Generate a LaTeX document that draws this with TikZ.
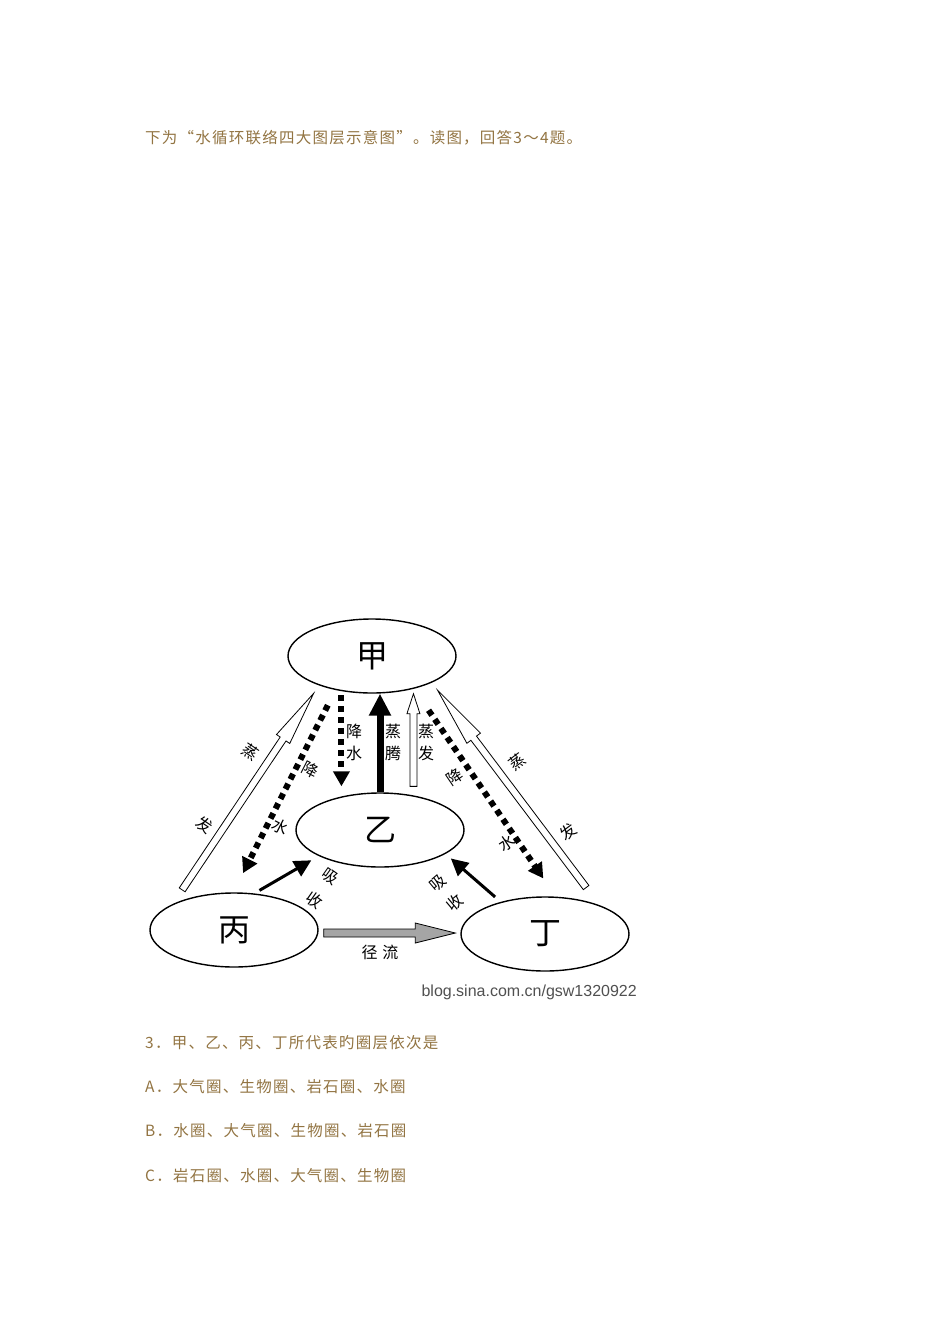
\documentclass[tikz,border=0pt]{standalone}
\usepackage{fontspec}
\setmainfont{Liberation Serif}
\newfontfamily\cjk[LetterSpace=8]{Noto Sans CJK SC}
\newfontfamily\cjkbig{Noto Sans CJK SC}
\newfontfamily\wmfont{Liberation Sans}
\usetikzlibrary{arrows.meta,calc,shapes.geometric}
\definecolor{textbrown}{RGB}{146,116,66}
\definecolor{flowgray}{RGB}{165,165,165}
\definecolor{markgray}{RGB}{80,80,80}
\newcommand{\fatarrow}[6][]{%
  \path ($(#3)!#6!(#2)$) coordinate (fa-base);
  \draw[#1] ($(#2)!#4!90:(#3)$) -- ($(fa-base)!#4!90:(#3)$)
    -- ($(fa-base)!#5!90:(#3)$) -- (#3)
    -- ($(fa-base)!#5!-90:(#3)$) -- ($(fa-base)!#4!-90:(#3)$)
    -- ($(#2)!#4!-90:(#3)$) -- cycle;}

\begin{document}
\begin{tikzpicture}[x=1pt,y=-1pt,
  sphere/.style={ellipse,draw,line width=1.4pt,minimum width=168pt,minimum height=74pt,
    inner sep=0pt,font=\cjkbig\fontsize{32}{32}\selectfont},
  rain/.style={line width=6pt,dash pattern=on 6pt off 5pt,-{Triangle[length=15pt,width=16pt]}},
  uptake/.style={line width=3pt,-{Triangle[length=17pt,width=17pt]}},
  hollow/.style={draw,line width=0.8pt,fill=white,line join=miter},
  lab/.style={font=\cjkbig\fontsize{16}{22}\selectfont,inner sep=0pt,align=center},
  body/.style={font=\cjk\fontsize{15.5}{15.5}\selectfont,text=textbrown,anchor=west,inner sep=0pt}]
  \useasboundingbox (0,0) rectangle (950,1344);
  \node[body] (intro) at (145,138) {下为“水循环联络四大图层示意图”。读图，回答3～4题。};

  \node[sphere] (jia) at (372,656) {甲};
  \node[sphere] (yi) at (380,830) {乙};
  \node[sphere] (bing) at (234,930) {丙};
  \node[sphere] (ding) at (545,934) {丁};

  \coordinate (e1s) at ($(bing.157)!17pt!(jia.209)$);
  \coordinate (e1t) at ($(jia.209)!9.5pt!(bing.157)$);
  \coordinate (e2s) at ($(ding.28)!22pt!(jia.336)$);
  \coordinate (e2t) at ($(jia.336)!9.5pt!(ding.28)$);
  \coordinate (e3t) at (yi.46 |- jia.south);
  \coordinate (e3s) at ($(yi.46)!9pt!(e3t)$);
  \coordinate (e4s) at ($(bing.east)+(5,3)$);
  \coordinate (e4t) at ($(ding.west)+(-5,-1)$);
  \fatarrow[hollow]{e1s}{e1t}{3.5pt}{8pt}{55pt}
  \fatarrow[hollow]{e2s}{e2t}{3.5pt}{8.5pt}{60pt}
  \fatarrow[hollow]{e3s}{e3t}{3.5pt}{6.5pt}{20pt}
  \fatarrow[hollow,fill=flowgray]{e4s}{e4t}{4pt}{10pt}{40pt}

  \draw[line width=7pt,-{Triangle[length=22pt,width=21pt]}] (yi.north) -- (yi.north |- jia.south);
  \draw[rain,shorten <=4pt,shorten >=6pt] (jia.229) -- (jia.229 |- yi.north);
  \draw[rain,shorten <=17pt,shorten >=21.5pt] (jia.223) -- (bing.91);
  \draw[rain,shorten <=26pt,shorten >=22pt] (jia.322) -- (ding.74);
  \draw[uptake,shorten <=6pt,shorten >=8.5pt] (bing.61) -- (yi.203);
  \draw[uptake,shorten <=7.5pt,shorten >=7pt] (ding.144) -- (yi.340);

  \node[lab] (fall) at (354,742) {降\\水};
  \node[lab] (transp) at (393,742) {蒸\\腾};
  \node[lab] (evap) at (426,742) {蒸\\发};
  \node[lab,rotate=-34] (levap1) at (250,752) {蒸};
  \node[lab,rotate=-34] (levap2) at (205,825) {发};
  \node[lab,rotate=-27] (lfall1) at (310,770) {降};
  \node[lab,rotate=-27] (lfall2) at (280,827) {水};
  \node[lab,rotate=34] (rfall1) at (455,777) {降};
  \node[lab,rotate=34] (rfall2) at (507,843) {水};
  \node[lab,rotate=37] (revap1) at (517,762) {蒸};
  \node[lab,rotate=37] (revap2) at (568,832) {发};
  \node[lab,rotate=-35] (labs1) at (330,877) {吸};
  \node[lab,rotate=-35] (labs2) at (315,900) {收};
  \node[lab,rotate=40] (rabs1) at (438,883) {吸};
  \node[lab,rotate=40] (rabs2) at (455,903) {收};
  \node[lab] (runoff) at (380,952) {径\hspace{5pt}流};

  \node[anchor=east,inner sep=0pt,text=markgray,font=\wmfont\fontsize{16}{16}\selectfont] (mark)
    at (637,992) {blog.sina.com.cn/gsw1320922};

  \node[body] (q3) at (145,1043) {3．甲、乙、丙、丁所代表旳圈层依次是};
  \node[body] (qa) at (145,1087) {A．大气圈、生物圈、岩石圈、水圈};
  \node[body] (qb) at (145,1131) {B．水圈、大气圈、生物圈、岩石圈};
  \node[body] (qc) at (145,1176) {C．岩石圈、水圈、大气圈、生物圈};
\end{tikzpicture}
\end{document}
